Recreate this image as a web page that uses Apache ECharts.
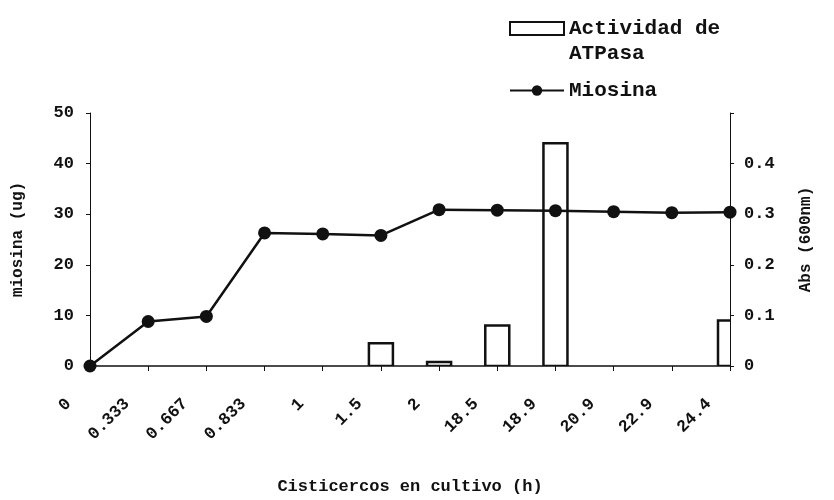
<!DOCTYPE html>
<html>
<head>
<meta charset="utf-8">
<script src="https://cdn.jsdelivr.net/npm/echarts@6/dist/echarts.min.js"></script>
<style>
  html, body { margin: 0; padding: 0; background: #fff; }
  #chart { width: 834px; height: 500px; }
</style>
</head>
<body>
<div id="chart"></div>
<script>
  // horas de cultivo
  var categories = ['0', '0.333', '0.667', '0.833', '1', '1.5', '2', '18.5', '18.9', '20.9', '22.9', '24.4'];
  // miosina (ug), eje izquierdo
  var miosina = [0, 8.8, 9.8, 26.3, 26.1, 25.8, 30.9, 30.8, 30.7, 30.5, 30.3, 30.4];
  // actividad de ATPasa, Abs (600nm), eje derecho
  var atpasa = [null, null, null, null, null, 0.045, 0.008, 0.08, 0.44, null, null, 0.09];
  var leftTicks = [0, 10, 20, 30, 40, 50];
  var rightTicks = [0, 0.1, 0.2, 0.3, 0.4];

  var font = 'Liberation Mono';
  var ink = '#111';
  var barName = 'Actividad de\nATPasa';
  var barW = 24;

  // pares [indice de categoria, valor] para las barras
  var barData = [];
  atpasa.forEach(function (v, i) {
    if (v !== null) barData.push([i, v]);
  });

  var chart = echarts.init(document.getElementById('chart'));
  var option = {
    animation: false,
    backgroundColor: '#fff',
    textStyle: { fontFamily: font, fontWeight: 'bold', color: ink },
    grid: { left: 90, right: 104, top: 113, bottom: 131 },
    legend: {
      orient: 'vertical',
      left: 504,
      top: -14,
      itemWidth: 54,
      itemHeight: 13,
      itemGap: 12,
      textStyle: { fontFamily: font, fontWeight: 'bold', fontSize: 21, color: ink, lineHeight: 25 },
      // linea vacia arriba para que el icono quede a la altura del primer renglon
      formatter: function (name) {
        return name === barName ? '\u00a0\n' + name : name;
      },
      data: [
        { name: barName, icon: 'rect', itemStyle: { color: '#fff', borderColor: ink, borderWidth: 2 } },
        { name: 'Miosina' }
      ]
    },
    xAxis: {
      type: 'category',
      data: categories,
      boundaryGap: false,
      name: 'Cisticercos en cultivo (h)',
      nameLocation: 'middle',
      nameGap: 112,
      nameTextStyle: { fontFamily: font, fontWeight: 'bold', fontSize: 17, color: ink },
      axisLine: { lineStyle: { color: ink, width: 1.5 } },
      axisTick: { show: true, alignWithLabel: true, length: 5, lineStyle: { color: ink } },
      axisLabel: {
        rotate: 45,
        interval: 0,
        margin: 14,
        padding: [0, 30, 0, 0],
        fontFamily: font, fontWeight: 'bold', fontSize: 17, color: ink
      }
    },
    yAxis: [
      {
        type: 'value',
        min: leftTicks[0],
        max: leftTicks[leftTicks.length - 1],
        interval: 10,
        name: 'miosina (ug)',
        nameLocation: 'middle',
        nameRotate: 90,
        nameGap: 64,
        nameTextStyle: { fontFamily: font, fontWeight: 'bold', fontSize: 16, color: ink },
        axisLine: { show: true, lineStyle: { color: ink, width: 1 } },
        axisTick: { show: true, length: 4, lineStyle: { color: ink } },
        axisLabel: { margin: 16, fontFamily: font, fontWeight: 'bold', fontSize: 17, color: ink },
        splitLine: { show: false }
      },
      {
        type: 'value',
        min: 0,
        max: 0.5,
        interval: 0.1,
        position: 'right',
        name: 'Abs (600nm)',
        nameLocation: 'middle',
        nameRotate: 90,
        nameGap: 68,
        nameTextStyle: { fontFamily: font, fontWeight: 'bold', fontSize: 16, color: ink },
        axisLine: { show: true, lineStyle: { color: ink, width: 1 } },
        axisTick: { show: true, length: 4, lineStyle: { color: ink } },
        axisLabel: {
          margin: 14,
          fontFamily: font, fontWeight: 'bold', fontSize: 17, color: ink,
          formatter: function (v) {
            var hit = rightTicks.some(function (t) { return Math.abs(t - v) < 1e-9; });
            return hit ? String(+v.toFixed(1)) : '';
          }
        },
        splitLine: { show: false }
      }
    ],
    series: [
      {
        // barras dibujadas con custom para que la ultima se recorte en el eje derecho
        name: barName,
        type: 'custom',
        yAxisIndex: 1,
        clip: true,
        data: barData,
        encode: { x: 0, y: 1 },
        itemStyle: { color: '#fff', borderColor: ink, borderWidth: 2.5 },
        renderItem: function (params, api) {
          var top = api.coord([api.value(0), api.value(1)]);
          var base = api.coord([api.value(0), 0]);
          return {
            type: 'rect',
            shape: { x: top[0] - barW / 2, y: top[1], width: barW, height: base[1] - top[1] },
            style: { fill: '#fff', stroke: ink, lineWidth: 2.5 }
          };
        }
      },
      {
        name: 'Miosina',
        type: 'line',
        yAxisIndex: 0,
        data: miosina,
        symbol: 'circle',
        symbolSize: 13,
        lineStyle: { color: ink, width: 2.5 },
        itemStyle: { color: ink }
      }
    ]
  };
  chart.setOption(option);
</script>
</body>
</html>
